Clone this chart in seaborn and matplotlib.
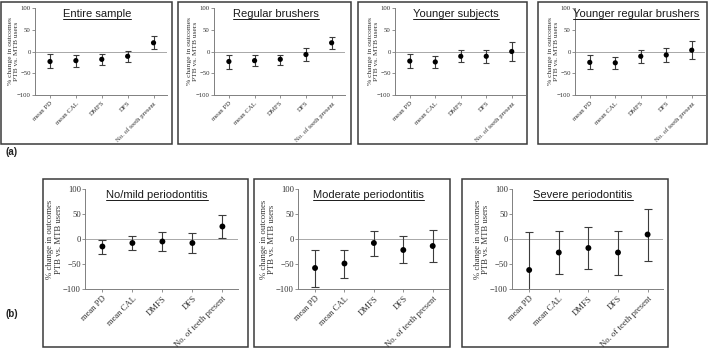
import numpy as np
import pandas as pd
import seaborn as sns
import matplotlib
matplotlib.use("Agg")
import matplotlib.pyplot as plt
from matplotlib.patches import Rectangle
from matplotlib.lines import Line2D

sns.set_style("ticks")
plt.rcParams["font.family"] = ["Liberation Serif", "DejaVu Serif"]

# outcomes on the x axis
outcomes = ["mean PD", "mean CAL", "DMFS", "DFS", "No. of teeth present"]

# panel titles
titles_a = ["Entire sample", "Regular brushers", "Younger subjects", "Younger regular brushers"]
titles_b = ["No/mild periodontitis", "Moderate periodontitis", "Severe periodontitis"]

# % change estimates with lower / upper limits
entire_est = [-23, -21, -18, -11, 20]
entire_lo = [-39, -35, -30, -24, 6]
entire_hi = [-6, -9, -6, 2, 35]

regular_est = [-23, -21, -18, -7, 20]
regular_lo = [-40, -34, -30, -21, 6]
regular_hi = [-7, -8, -7, 7, 34]

younger_est = [-22, -24, -11, -11, 0]
younger_lo = [-39, -37, -25, -27, -21]
younger_hi = [-5, -11, 3, 4, 21]

young_reg_est = [-25, -26, -11, -8, 3]
young_reg_lo = [-41, -40, -26, -24, -18]
young_reg_hi = [-8, -12, 3, 9, 24]

mild_est = [-15, -8, -5, -8, 25]
mild_lo = [-29, -22, -24, -28, 2]
mild_hi = [-2, 6, 14, 12, 48]

moderate_est = [-58, -49, -8, -22, -14]
moderate_lo = [-95, -77, -34, -48, -46]
moderate_hi = [-22, -22, 17, 6, 18]

severe_est = [-62, -27, -18, -27, 9]
severe_lo = [-115, -70, -60, -71, -43]
severe_hi = [15, 17, 24, 17, 60]

rows = []
panels = list(zip(titles_a + titles_b,
                  [entire_est, regular_est, younger_est, young_reg_est, mild_est, moderate_est, severe_est],
                  [entire_lo, regular_lo, younger_lo, young_reg_lo, mild_lo, moderate_lo, severe_lo],
                  [entire_hi, regular_hi, younger_hi, young_reg_hi, mild_hi, moderate_hi, severe_hi]))
for title, est, lo, hi in panels:
    for i, name in enumerate(outcomes):
        rows.append({"panel": title, "outcome": name, "pos": i, "est": est[i], "lo": lo[i], "hi": hi[i]})
df = pd.DataFrame(rows)

W, H = 709, 348
fig = plt.figure(figsize=(W / 100, H / 100), dpi=100)

def px_axes(x0, y0, x1, y1):
    return fig.add_axes([x0 / W, 1 - y1 / H, (x1 - x0) / W, (y1 - y0) / H])

def px_box(x0, y0, x1, y1):
    fig.patches.append(Rectangle((x0 / W, 1 - y1 / H), (x1 - x0) / W, (y1 - y0) / H,
                                 transform=fig.transFigure, fill=False,
                                 edgecolor="#3a3a3a", linewidth=1.1))

# pixel layout: (axes rect, box rect, small?)
layout = [
    ((35, 8, 167, 95), (1, 2, 172, 144), True),
    ((214, 8, 345, 95), (178, 2, 351, 144), True),
    ((395, 8, 525, 95), (358, 2, 527, 144), True),
    ((575, 8, 705, 95), (538, 2, 707, 144), True),
    ((85, 189, 238, 289), (43, 179, 248, 347), False),
    ((298, 189, 448, 289), (254, 179, 450, 347), False),
    ((512, 189, 663, 289), (462, 179, 668, 347), False),
]

axis_col = "#808080"
title_texts = []
for (title, _, _, _), (arect, brect, small) in zip(panels, layout):
    px_box(*brect)
    ax = px_axes(*arect)
    sub = df[df["panel"] == title]
    tick_fs = 4.9 if small else 6.2
    lab_fs = 5.4 if small else 6.3

    ax.axhline(0, color="#9a9a9a", linewidth=0.6, zorder=1)
    ax.errorbar(sub["pos"], sub["est"], yerr=[sub["est"] - sub["lo"], sub["hi"] - sub["est"]],
                fmt="none", ecolor="#3c3c3c", elinewidth=0.8, capsize=2.3 if small else 2.8,
                capthick=0.8, zorder=2)
    sns.scatterplot(data=sub, x="pos", y="est", color="black", s=14 if small else 18,
                    edgecolor="none", legend=False, ax=ax, zorder=3)

    ax.set_xlim(-0.58, 4.52)
    ax.set_ylim(-100, 100)
    ax.set_yticks([-100, -50, 0, 50, 100])
    ax.set_xticks(range(len(outcomes)))
    ax.set_xticklabels(outcomes, rotation=45, ha="right", rotation_mode="anchor")
    ax.tick_params(axis="both", labelsize=tick_fs, length=2, width=0.6, pad=1,
                   color=axis_col, labelcolor="#333333")
    ax.tick_params(axis="x", pad=2)
    ax.set_xlabel("")
    ax.set_ylabel("% change in outcomes\nPTB vs. MTB users", fontsize=lab_fs,
                  color="#333333", linespacing=1.1)
    ax.yaxis.set_label_coords(-0.125 if small else -0.145, 0.5)
    sns.despine(ax=ax)
    for side in ["left", "bottom"]:
        ax.spines[side].set_color(axis_col)
        ax.spines[side].set_linewidth(0.7)
    ax.set_facecolor("none")
    t = ax.text(0.47, 0.985, title, transform=ax.transAxes, ha="center", va="top",
                fontsize=8.0, family=["Liberation Sans", "DejaVu Sans"], color="#1a1a1a")
    title_texts.append(t)

fig.text(5 / W, 1 - 152 / H, "(a)", fontsize=7, fontweight="bold",
         family=["Liberation Sans", "DejaVu Sans"], va="center", color="#222222")
fig.text(5 / W, 1 - 314 / H, "(b)", fontsize=7, fontweight="bold",
         family=["Liberation Sans", "DejaVu Sans"], va="center", color="#222222")

# underline the panel titles
renderer = fig.canvas.get_renderer()
for t in title_texts:
    bb = t.get_window_extent(renderer=renderer)
    inv = fig.transFigure.inverted()
    (x0, y0), (x1, _) = inv.transform([(bb.x0, bb.y0 + 0.5), (bb.x1, bb.y1)])
    fig.lines.append(Line2D([x0, x1], [y0, y0], transform=fig.transFigure,
                            color="#1a1a1a", linewidth=0.7))

fig.savefig("out.png", dpi=100, facecolor="white")
